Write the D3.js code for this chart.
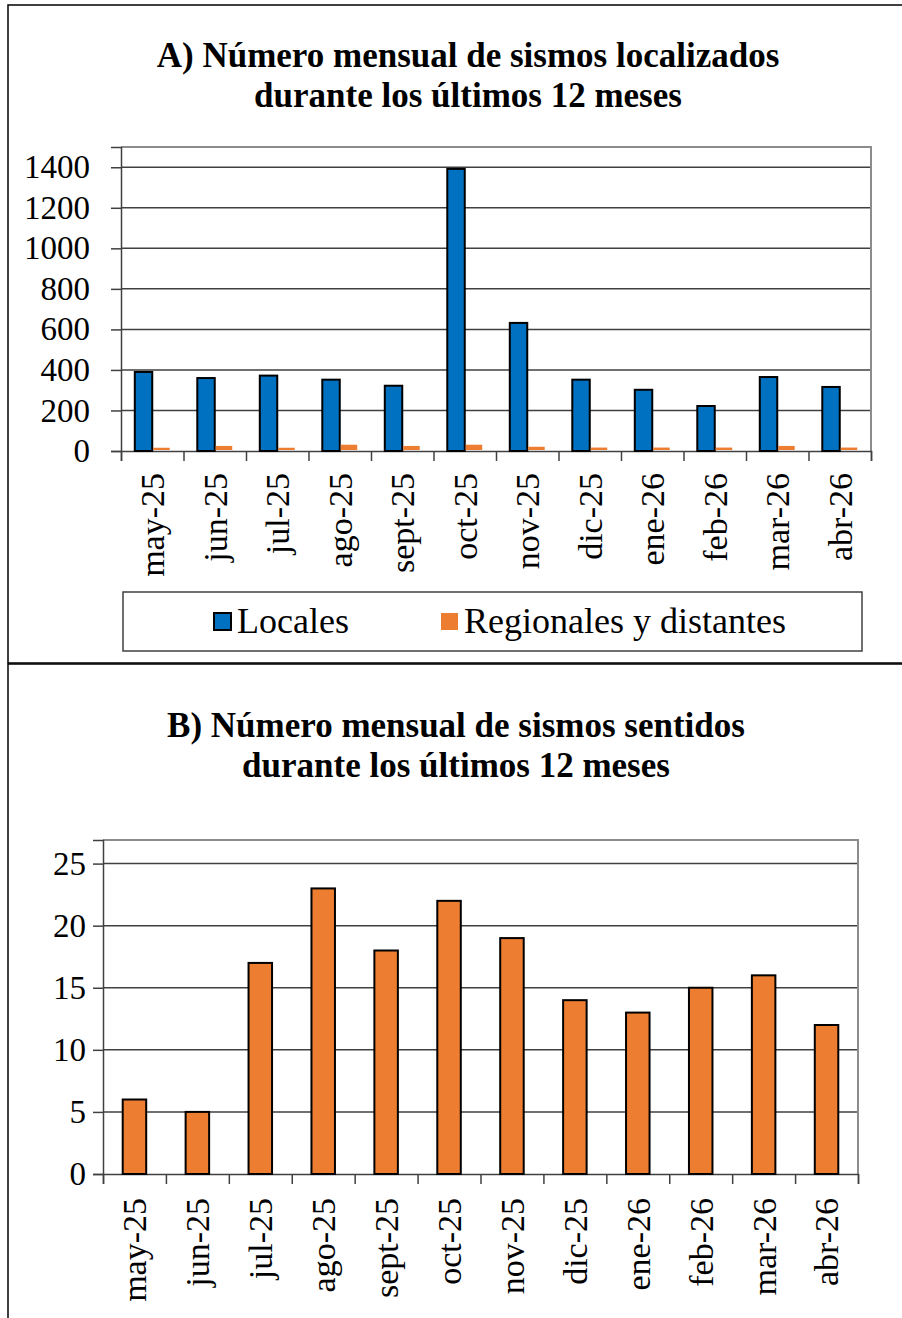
<!DOCTYPE html>
<html>
<head>
<meta charset="utf-8">
<script src="https://cdn.jsdelivr.net/npm/d3@7"></script>
<style>
  body { margin: 0; background: #fff; }
  svg text { font-family: "Times New Roman", "Liberation Serif", serif; fill: #000; }
</style>
</head>
<body>
<div id="container"></div>
<script>
var width = 902, height = 1318;

// data
var months = ["may-25","jun-25","jul-25","ago-25","sept-25","oct-25","nov-25","dic-25","ene-26","feb-26","mar-26","abr-26"];
var locales = [390, 360, 372, 352, 322, 1392, 632, 352, 302, 222, 365, 316];
var regionales = [16, 25, 16, 31, 25, 31, 21, 17, 17, 17, 25, 17];
var sentidos = [6, 5, 17, 23, 18, 22, 19, 14, 13, 15, 16, 12];
var ticksA = [0, 200, 400, 600, 800, 1000, 1200, 1400];
var ticksB = [0, 5, 10, 15, 20, 25];
var seriesA = ["Locales", "Regionales y distantes"];

var blue = "#0070c0", orange = "#ed7d31", grid = "#404040";

var svg = d3.select("#container")
            .append("svg")
            .attr("width", width)
            .attr("height", height);

// marcos de cada gráfico
svg.append("rect").attr("x", 8).attr("y", 5).attr("width", 1000).attr("height", 658)
   .attr("fill", "none").attr("stroke", "#000").attr("stroke-width", 1.5);
svg.append("rect").attr("x", 8).attr("y", 664).attr("width", 1000).attr("height", 700)
   .attr("fill", "none").attr("stroke", "#000").attr("stroke-width", 1.5);

function title(lines, cx, y0) {
  lines.forEach(function(t, i) {
    svg.append("text")
       .attr("x", cx).attr("y", y0 + i * 40)
       .attr("text-anchor", "middle")
       .style("font-size", "35px").style("font-weight", "bold")
       .text(t);
  });
}

// ejes comunes: rejilla, marco, ticks
function drawAxes(g, x, y, ticks, w, h, labelPad, xLabelGap) {
  // rejilla
  g.append("g").selectAll("line").data(ticks.filter(function(d){ return d > 0; }))
   .enter().append("line")
   .attr("x1", 0).attr("x2", w)
   .attr("y1", function(d){ return y(d); }).attr("y2", function(d){ return y(d); })
   .attr("stroke", grid).attr("stroke-width", 1.5);
  // borde del área de trazado
  g.append("path").attr("d", "M0,0H" + w + "V" + h)
   .attr("fill", "none").attr("stroke", "#8c8c8c").attr("stroke-width", 2);

  var y_axis = d3.axisLeft(y).tickValues(ticks).tickSize(10).tickPadding(labelPad)
                 .tickFormat(d3.format("d"));
  var ya = g.append("g").call(y_axis);
  ya.select(".domain").attr("stroke", grid).attr("stroke-width", 1.5);
  ya.selectAll(".tick line").attr("stroke", grid).attr("stroke-width", 1.5);
  ya.selectAll("text").style("font-size", "33px").attr("fill", "#000")
    .style("font-family", "'Times New Roman', 'Liberation Serif', serif");

  // ticks en los bordes de categoría
  var xb = d3.scaleLinear().domain([0, months.length]).range([0, w]);
  var xt = g.append("g").attr("transform", "translate(0," + h + ")")
            .call(d3.axisBottom(xb).tickValues(d3.range(months.length + 1)).tickSize(10).tickFormat(""));
  xt.select(".domain").attr("stroke", grid).attr("stroke-width", 1.5);
  xt.selectAll(".tick line").attr("stroke", grid).attr("stroke-width", 1.5);

  // etiquetas de meses
  var xl = g.append("g").attr("transform", "translate(0," + h + ")")
            .call(d3.axisBottom(x).tickSize(0));
  xl.select(".domain").remove();
  xl.selectAll("text")
    .attr("y", 0).attr("x", -xLabelGap).attr("dy", "0.35em")
    .attr("transform", "rotate(-90)")
    .attr("text-anchor", "end")
    .attr("fill", "#000")
    .style("font-size", "34px")
    .style("font-family", "'Times New Roman', 'Liberation Serif', serif");
}

// ---------- A) sismos localizados ----------
var A = { left: 121, top: 147, right: 871, bottom: 451 };
var wA = A.right - A.left, hA = A.bottom - A.top;
var gA = svg.append("g").attr("transform", "translate(" + A.left + "," + A.top + ")");

title(["A) Número mensual de sismos localizados", "durante los últimos 12 meses"], 468, 67);

var xA = d3.scaleBand().domain(months).range([0, wA]).padding(0);
var xA1 = d3.scaleBand().domain(seriesA).range([0, xA.bandwidth()]).paddingInner(0).paddingOuter(0.79);
var yA = d3.scaleLinear().domain([0, 1500]).range([hA, 0]);

drawAxes(gA, xA, yA, ticksA, wA, hA, 21, 22);

gA.append("g").selectAll("rect").data(locales).enter().append("rect")
  .attr("x", function(d, i){ return xA(months[i]) + xA1("Locales"); })
  .attr("y", function(d){ return yA(d); })
  .attr("width", xA1.bandwidth())
  .attr("height", function(d){ return hA - yA(d); })
  .attr("fill", blue).attr("stroke", "#000").attr("stroke-width", 2);

gA.append("g").selectAll("rect").data(regionales).enter().append("rect")
  .attr("x", function(d, i){ return xA(months[i]) + xA1("Regionales y distantes") + 1; })
  .attr("y", function(d){ return yA(d); })
  .attr("width", xA1.bandwidth() - 1)
  .attr("height", function(d){ return hA - yA(d) - 1; })
  .attr("fill", orange);

// leyenda
var leg = svg.append("g");
leg.append("rect").attr("x", 123).attr("y", 592).attr("width", 739).attr("height", 59)
   .attr("fill", "#fff").attr("stroke", grid).attr("stroke-width", 1.5);
var legItems = [
  { name: seriesA[0], color: blue, stroke: "#000", x: 214 },
  { name: seriesA[1], color: orange, stroke: "none", x: 441 }
];
legItems.forEach(function(it) {
  leg.append("rect").attr("x", it.x).attr("y", 613).attr("width", 17).attr("height", 17)
     .attr("fill", it.color).attr("stroke", it.stroke).attr("stroke-width", 2);
  leg.append("text").attr("x", it.x + 23).attr("y", 633)
     .style("font-size", "36px").text(it.name);
});

// ---------- B) sismos sentidos ----------
var B = { left: 103, top: 840, right: 858, bottom: 1174 };
var wB = B.right - B.left, hB = B.bottom - B.top;
var gB = svg.append("g").attr("transform", "translate(" + B.left + "," + B.top + ")");

title(["B) Número mensual de sismos sentidos", "durante los últimos 12 meses"], 456, 737);

var xB = d3.scaleBand().domain(months).range([0, wB]).padding(0);
var yB = d3.scaleLinear().domain([0, 26.9]).range([hB, 0]);

drawAxes(gB, xB, yB, ticksB, wB, hB, 7, 24);

var barW = 23.5;
gB.append("g").selectAll("rect").data(sentidos).enter().append("rect")
  .attr("x", function(d, i){ return xB(months[i]) + (xB.bandwidth() - barW) / 2; })
  .attr("y", function(d){ return yB(d); })
  .attr("width", barW)
  .attr("height", function(d){ return hB - yB(d); })
  .attr("fill", orange).attr("stroke", "#000").attr("stroke-width", 2);
</script>
</body>
</html>
